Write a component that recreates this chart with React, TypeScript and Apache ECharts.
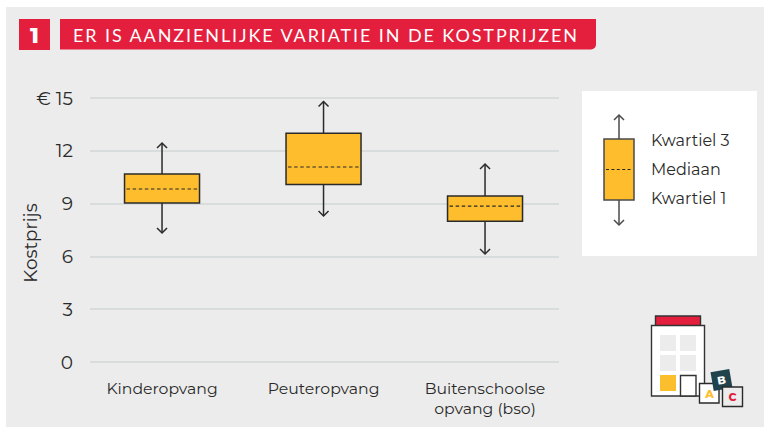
import React, { useEffect, useRef } from "react";
import * as echarts from "echarts";

const categories = ["Kinderopvang", "Peuteropvang", "Buitenschoolse\nopvang (bso)"];
const low = [7.33, 8.3, 6.14];
const q1 = [9.03, 10.08, 8.0];
const median = [9.83, 11.08, 8.86];
const q3 = [10.68, 13.0, 9.43];
const high = [12.44, 14.8, 11.25];
const yTicks = [0, 3, 6, 9, 12, 15];
const title = "ER IS AANZIENLIJKE VARIATIE IN DE KOSTPRIJZEN";
const yName = "Kostprijs";
const legendLabels = ["Kwartiel 3", "Mediaan", "Kwartiel 1"];

const FONT = "Montserrat, Inter, 'Noto Sans', sans-serif";
const INK = "#2a2a2a";
const YELLOW = "#fdbd2c";
const RED = "#e31f3d";
const PANEL = "#ececec";

const boxData = categories.map((_, i) => [i, low[i], q1[i], median[i], q3[i], high[i]]);

function renderBox(_p: any, api: any) {
  const x = api.value(0);
  const [cx, yLow] = api.coord([x, api.value(1)]);
  const yQ1 = api.coord([x, api.value(2)])[1];
  const yMed = api.coord([x, api.value(3)])[1];
  const yQ3 = api.coord([x, api.value(4)])[1];
  const yHigh = api.coord([x, api.value(5)])[1];
  const hw = 37.5;
  const a = 5;
  const lineStyle = { stroke: INK, lineWidth: 1.5, fill: "none" };
  return {
    type: "group",
    children: [
      { type: "line", shape: { x1: cx, y1: yHigh, x2: cx, y2: yQ3 }, style: lineStyle },
      { type: "polyline", shape: { points: [[cx - a, yHigh + a], [cx, yHigh], [cx + a, yHigh + a]] }, style: lineStyle },
      { type: "line", shape: { x1: cx, y1: yLow, x2: cx, y2: yQ1 }, style: lineStyle },
      { type: "polyline", shape: { points: [[cx - a, yLow - a], [cx, yLow], [cx + a, yLow - a]] }, style: lineStyle },
      { type: "rect", shape: { x: cx - hw, y: yQ3, width: hw * 2, height: yQ1 - yQ3 }, style: { fill: YELLOW, stroke: INK, lineWidth: 1.5 } },
      { type: "line", shape: { x1: cx - hw + 2, y1: yMed, x2: cx + hw - 2, y2: yMed }, style: { stroke: INK, lineWidth: 1.2, lineDash: [3.5, 2.6] } },
    ],
  };
}

const dark = { stroke: "#333", lineWidth: 1.4 };
const legendStroke = { stroke: "#4a4a4a", lineWidth: 1.5, fill: "none" };

const graphics: any[] = [
  { type: "rect", shape: { x: 6, y: 7, width: 758, height: 420 }, style: { fill: PANEL }, z: -10 },
  { type: "rect", shape: { x: 19, y: 19, width: 31, height: 31 }, style: { fill: RED } },
  { type: "text", x: 34.5, y: 35, style: { text: "1", fill: "#fff", font: `800 22px ${FONT}`, align: "center", verticalAlign: "middle" } },
  { type: "rect", shape: { x: 60, y: 19, width: 536, height: 30.5, r: [0, 0, 5, 0] }, style: { fill: RED } },
  { type: "text", x: 73, y: 34.5, style: { text: title, fill: "#fff", font: `400 18px Lato`, align: "left", verticalAlign: "middle" } },
  { type: "text", x: 30, y: 243, rotation: Math.PI / 2, style: { text: yName, fill: INK, font: `400 18.4px ${FONT}`, align: "center", verticalAlign: "middle" } },
];

function App() {
  const ref = useRef<HTMLDivElement>(null);
  useEffect(() => {
    document.body.style.margin = "0";
    const chart = echarts.init(ref.current!, null, { renderer: "svg" });
    chart.setOption({
      animation: false,
      backgroundColor: "#fff",
      textStyle: { fontFamily: FONT },
      grid: { left: 90, right: 205, top: 98, bottom: 65 },
      xAxis: {
        type: "value",
        min: -0.446,
        max: 2.458,
        axisLine: { show: false },
        axisTick: { show: false },
        splitLine: { show: false },
        axisLabel: {
          customValues: categories.map((_, i) => i),
          formatter: (v: number) => categories[v] ?? "",
          fontSize: 15.7,
          color: INK,
          lineHeight: 20,
          margin: 16,
          verticalAlign: "top",
          fontFamily: FONT,
        },
      },
      yAxis: {
        type: "value",
        min: 0,
        max: 15,
        interval: 3,
        axisLine: { show: false },
        axisTick: { show: false },
        splitLine: { lineStyle: { color: "#d3d7d7", width: 1.6 } },
        axisLabel: {
          customValues: yTicks,
          formatter: (v: number) => (v === 15 ? `€ ${v}` : `${v}`),
          fontSize: 18.5,
          color: INK,
          margin: 17,
          padding: [2, 0, 0, 0],
          fontFamily: FONT,
        },
      },
      series: [
        { type: "custom", renderItem: renderBox, data: boxData, encode: { x: 0, y: [1, 2, 3, 4, 5] }, clip: false, silent: true },
      ],
      graphic: { elements: graphics.concat([
        { type: "rect", shape: { x: 582, y: 91, width: 175, height: 165 }, style: { fill: "#fff" } },
        { type: "line", shape: { x1: 619, y1: 115, x2: 619, y2: 139 }, style: legendStroke },
        { type: "polyline", shape: { points: [[614, 120], [619, 115], [624, 120]] }, style: legendStroke },
        { type: "line", shape: { x1: 619, y1: 200, x2: 619, y2: 225 }, style: legendStroke },
        { type: "polyline", shape: { points: [[614, 220], [619, 225], [624, 220]] }, style: legendStroke },
        { type: "rect", shape: { x: 604, y: 139, width: 30, height: 61 }, style: { fill: YELLOW, stroke: "#4a4a4a", lineWidth: 1.5 } },
        { type: "line", shape: { x1: 606, y1: 169.5, x2: 632, y2: 169.5 }, style: { stroke: INK, lineWidth: 1.2, lineDash: [3, 2.4] } },
        ...legendLabels.map((t, i) => ({
          type: "text", x: 651, y: 140.5 + i * 29, style: { text: t, fill: INK, font: `400 16px ${FONT}`, align: "left", verticalAlign: "middle" },
        })),
        // building icon
        { type: "rect", shape: { x: 655.5, y: 316, width: 45, height: 10 }, style: { fill: RED, ...dark } },
        { type: "rect", shape: { x: 651.5, y: 325.5, width: 53, height: 70.5 }, style: { fill: "#fff", ...dark } },
        ...[[660, 335], [680, 335], [660, 355], [680, 355]].map(([x, y]) => ({ type: "rect", shape: { x, y, width: 16, height: 16 }, style: { fill: PANEL } })),
        { type: "rect", shape: { x: 660, y: 375, width: 16, height: 16 }, style: { fill: "#fbbf2d" } },
        { type: "rect", shape: { x: 680.5, y: 375.5, width: 15.5, height: 20.5 }, style: { fill: "#fff", ...dark } },
        { type: "rect", shape: { x: 699.5, y: 383.5, width: 19.5, height: 19.5 }, style: { fill: "#fff", stroke: "#2a2a2a", lineWidth: 1.4 } },
        { type: "text", x: 709.5, y: 394, style: { text: "A", fill: "#fdbd2c", font: `800 11px ${FONT}`, align: "center", verticalAlign: "middle" } },
        { type: "rect", x: 721.5, y: 380, originX: 0, originY: 0, rotation: 0.17, shape: { x: -9.5, y: -9.5, width: 19, height: 19 }, style: { fill: "#21434d" } },
        { type: "text", x: 721.5, y: 380, rotation: 0.17, style: { text: "B", fill: "#fff", font: `800 11px ${FONT}`, align: "center", verticalAlign: "middle" } },
        { type: "rect", shape: { x: 722.5, y: 387, width: 20, height: 19.5 }, style: { fill: PANEL, stroke: "#2a2a2a", lineWidth: 1.4 } },
        { type: "text", x: 732.5, y: 397, style: { text: "C", fill: RED, font: `800 11px ${FONT}`, align: "center", verticalAlign: "middle" } },
      ]) },
    });
    // ECharts has no letter-spacing option: stretch the heading to the reference's width.
    const titleNode = Array.from(ref.current!.querySelectorAll("text")).find((t) => t.textContent === title) as SVGTextElement | undefined;
    if (titleNode) {
      const natural = titleNode.getComputedTextLength();
      titleNode.setAttribute("letter-spacing", String((504 - natural) / (title.length - 1)));
    }
    return () => chart.dispose();
  }, []);
  return <div ref={ref} style={{ width: 764, height: 427 }} />;
}

export default App;
